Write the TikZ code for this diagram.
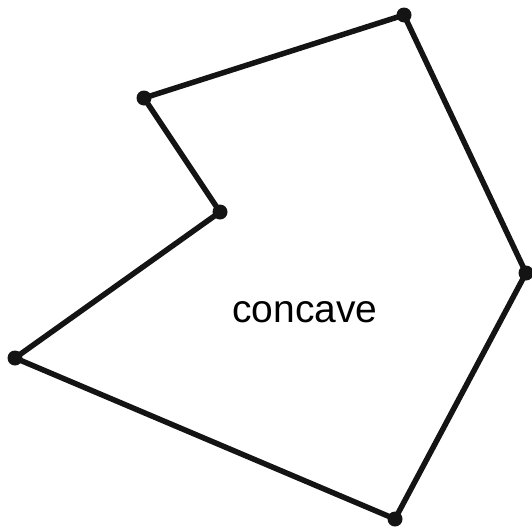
\documentclass[tikz,border=0pt]{standalone}
\usepackage{fontspec}
\setmainfont{Liberation Sans}
\begin{document}
\begin{tikzpicture}[x=1pt,y=-1pt,
  edge/.style={line width=5.5pt,black!92,line join=round,line cap=round},
  vdot/.style={circle,fill=black!92,inner sep=0pt,minimum size=15pt}]
\useasboundingbox (0,0) rectangle (532,530);
\coordinate (A) at (404,15);
\coordinate (B) at (526,273);
\coordinate (C) at (395,519);
\coordinate (D) at (15,358);
\coordinate (E) at (220,212);
\coordinate (F) at (144,98);
\draw[edge] (A) -- (B) -- (C) -- (D) -- (E) -- (F) -- cycle;
\foreach \p in {A,B,C,D,E,F} \node[vdot] at (\p) {};
\node[anchor=base,font=\fontsize{39}{46}\selectfont] (lbl) at (305,322) {concave};
\end{tikzpicture}
\end{document}
